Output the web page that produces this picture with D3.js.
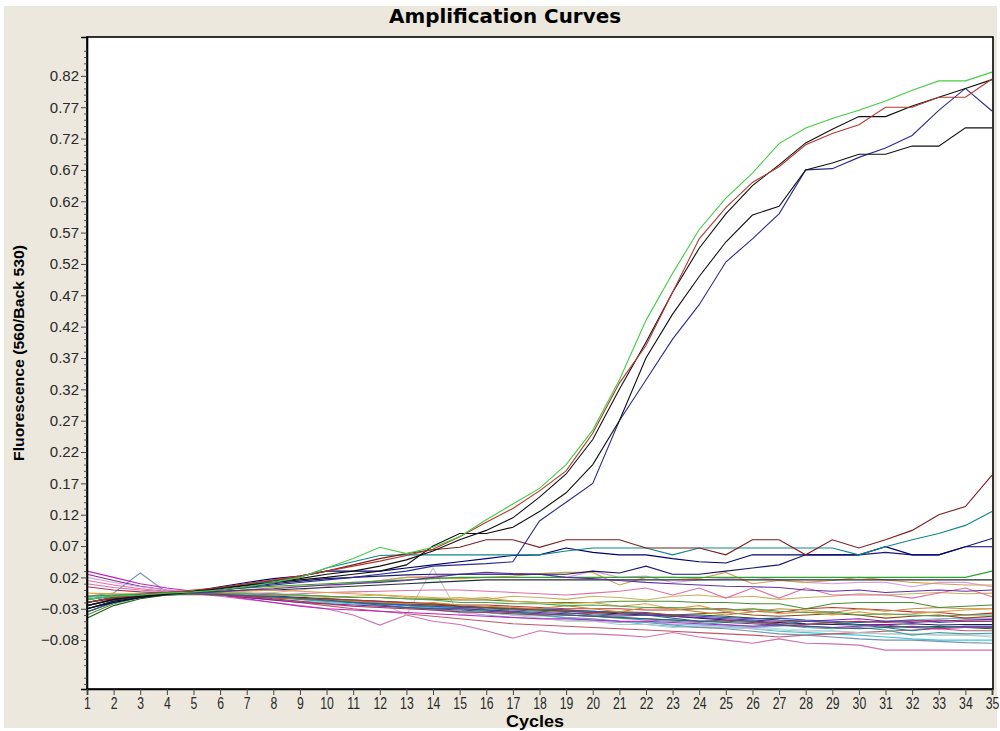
<!DOCTYPE html>
<html>
<head>
<meta charset="utf-8">
<script src="https://cdn.jsdelivr.net/npm/d3@7"></script>
<style>
  body { margin: 0; background: #ffffff; }
  svg { display: block; }
  .axis text { font-family: "Liberation Sans", Arial, sans-serif; fill: #2a2a2a; }
</style>
</head>
<body>
<svg id="chart" width="1000" height="731"></svg>
<script>
// cycles on the x axis
const cycles = [1,2,3,4,5,6,7,8,9,10,11,12,13,14,15,16,17,18,19,20,21,22,23,24,25,26,27,28,29,30,31,32,33,34,35];
// labelled y ticks
const yTicks = [0.82,0.77,0.72,0.67,0.62,0.57,0.52,0.47,0.42,0.37,0.32,0.27,0.22,0.17,0.12,0.07,0.02,-0.03,-0.08];

// amplifying samples
const greenCurve = [-0.015,-0.01,-0.008,-0.005,-0.003,0.0,0.005,0.012,0.02,0.035,0.05,0.068,0.058,0.068,0.085,0.112,0.137,0.162,0.2,0.255,0.335,0.43,0.505,0.575,0.625,0.665,0.712,0.737,0.752,0.765,0.78,0.797,0.812,0.812,0.826];
const redCurve = [-0.02,-0.012,-0.008,-0.004,0.0,0.004,0.01,0.016,0.022,0.03,0.038,0.046,0.055,0.065,0.085,0.108,0.13,0.158,0.19,0.25,0.33,0.39,0.475,0.56,0.61,0.65,0.675,0.71,0.728,0.742,0.77,0.77,0.786,0.786,0.815];
const blackCurveA = [-0.025,-0.015,-0.01,-0.006,-0.002,0.003,0.008,0.012,0.018,0.025,0.03,0.038,0.048,0.062,0.08,0.095,0.115,0.148,0.185,0.24,0.32,0.395,0.475,0.545,0.6,0.645,0.678,0.713,0.735,0.755,0.755,0.772,0.786,0.8,0.814];
const blackCurveB = [-0.03,-0.018,-0.012,-0.007,-0.003,0.002,0.007,0.012,0.016,0.02,0.025,0.03,0.04,0.07,0.09,0.09,0.1,0.125,0.155,0.2,0.27,0.37,0.44,0.5,0.555,0.598,0.612,0.67,0.681,0.695,0.695,0.708,0.708,0.737,0.737];
const blueCurve = [-0.02,-0.012,-0.008,-0.005,-0.003,0.0,0.004,0.008,0.012,0.016,0.02,0.025,0.03,0.038,0.04,0.042,0.045,0.11,0.14,0.17,0.27,0.335,0.4,0.455,0.523,0.56,0.6,0.67,0.672,0.69,0.705,0.725,0.765,0.8,0.764];

// late risers / plateau around 0.07
const maroonCurve = [-0.02,-0.014,-0.01,-0.006,-0.002,0.004,0.01,0.015,0.022,0.03,0.04,0.05,0.058,0.064,0.068,0.08,0.08,0.068,0.08,0.08,0.08,0.067,0.067,0.067,0.056,0.08,0.08,0.056,0.08,0.067,0.08,0.095,0.12,0.133,0.183];
const tealCurve = [-0.015,-0.01,-0.007,-0.004,-0.002,0.003,0.008,0.014,0.02,0.035,0.045,0.055,0.056,0.056,0.056,0.056,0.056,0.056,0.062,0.067,0.067,0.067,0.056,0.067,0.067,0.067,0.067,0.067,0.067,0.056,0.069,0.08,0.09,0.103,0.125];
const navyCurveA = [-0.03,-0.02,-0.012,-0.006,-0.002,0.005,0.012,0.018,0.022,0.03,0.03,0.03,0.035,0.04,0.045,0.05,0.055,0.056,0.067,0.06,0.056,0.056,0.05,0.045,0.043,0.056,0.056,0.056,0.056,0.056,0.069,0.056,0.056,0.069,0.069];
const navyCurveB = [-0.025,-0.016,-0.01,-0.006,-0.003,0.0,0.005,0.01,0.014,0.018,0.02,0.022,0.024,0.025,0.025,0.025,0.025,0.025,0.025,0.03,0.027,0.038,0.025,0.025,0.03,0.035,0.04,0.056,0.056,0.056,0.06,0.056,0.056,0.069,0.082];

// negative samples (baseline)
const base01 = [-0.01,-0.008,-0.006,-0.004,-0.002,0.0,0.003,0.006,0.008,0.01,0.012,0.014,0.016,0.018,0.02,0.02,0.02,0.02,0.02,0.02,0.02,0.02,0.02,0.02,0.02,0.02,0.02,0.02,0.02,0.02,0.02,0.02,0.02,0.02,0.03];
const base02 = [-0.03,-0.018,-0.011,-0.007,-0.005,-0.002,0.0,0.0,0.002,0.004,0.006,0.008,0.01,0.012,0.014,0.016,0.016,0.016,0.016,0.016,0.016,0.016,0.016,0.016,0.016,0.016,0.016,0.016,0.016,0.016,0.016,0.016,0.016,0.016,0.016];
const base03 = [-0.02,-0.012,-0.008,-0.005,-0.004,-0.002,0.0,0.004,0.006,0.008,0.01,0.015,0.02,0.02,0.018,0.02,0.022,0.026,0.028,0.028,0.008,0.02,0.02,0.018,0.028,0.01,0.015,0.012,0.015,0.02,0.016,0.012,0.01,0.008,0.008];
const base04 = [0.02,0.012,0.005,0.0,-0.002,-0.004,-0.006,-0.004,0.0,0.005,0.01,0.015,0.02,0.022,0.025,0.025,0.025,0.025,0.02,0.03,0.02,0.022,0.012,0.016,0.018,0.02,0.016,0.012,0.01,0.012,0.012,0.005,0.012,0.012,0.005];
const base05 = [0.015,0.008,0.002,-0.002,-0.004,-0.006,-0.008,-0.008,-0.006,-0.004,-0.003,-0.002,-0.001,0.0,0.0,-0.002,-0.004,-0.006,-0.008,-0.005,-0.002,0.003,-0.008,0.003,-0.013,0.003,-0.013,0.003,-0.008,-0.008,-0.008,-0.013,-0.005,0.003,-0.011];
const base06 = [-0.04,-0.022,-0.012,-0.006,-0.004,-0.004,-0.005,-0.006,-0.008,-0.01,-0.012,-0.012,-0.014,-0.015,-0.016,-0.016,-0.018,-0.02,-0.02,-0.02,-0.018,-0.018,-0.018,-0.02,-0.02,-0.022,-0.022,-0.03,-0.022,-0.02,-0.02,-0.02,-0.028,-0.026,-0.024];
const base07 = [-0.025,-0.015,-0.01,-0.007,-0.006,-0.006,-0.007,-0.008,-0.01,-0.012,-0.01,-0.008,-0.012,-0.014,-0.012,-0.015,-0.01,-0.012,-0.015,-0.01,-0.012,-0.016,-0.01,-0.008,-0.012,-0.01,-0.015,-0.012,-0.01,-0.006,-0.008,-0.006,-0.004,-0.006,-0.005];
const base08 = [-0.01,-0.008,-0.007,-0.006,-0.006,-0.008,-0.01,-0.012,-0.014,-0.016,-0.018,-0.02,-0.022,-0.02,-0.024,-0.026,-0.028,-0.03,-0.025,-0.03,-0.035,-0.028,-0.03,-0.035,-0.04,-0.035,-0.03,-0.032,-0.036,-0.03,-0.034,-0.03,-0.028,-0.03,-0.03];
const base09 = [-0.02,-0.012,-0.008,-0.006,-0.006,-0.008,-0.01,-0.012,-0.014,-0.014,-0.016,-0.018,-0.02,-0.022,-0.024,-0.024,-0.026,-0.028,-0.03,-0.03,-0.03,-0.032,-0.032,-0.03,-0.03,-0.034,-0.036,-0.03,-0.028,-0.03,-0.032,-0.035,-0.036,-0.04,-0.037];
const base10 = [-0.035,-0.02,-0.012,-0.008,-0.007,-0.008,-0.01,-0.012,-0.014,-0.016,-0.018,-0.02,-0.022,-0.024,-0.026,-0.028,-0.03,-0.032,-0.034,-0.036,-0.035,-0.036,-0.04,-0.038,-0.036,-0.04,-0.042,-0.04,-0.038,-0.04,-0.045,-0.042,-0.04,-0.045,-0.042];
const base11 = [0.025,0.015,0.006,0.0,-0.004,-0.008,-0.012,-0.016,-0.02,-0.022,-0.024,-0.026,-0.028,-0.03,-0.03,-0.032,-0.034,-0.036,-0.038,-0.038,-0.04,-0.04,-0.042,-0.044,-0.046,-0.048,-0.05,-0.05,-0.048,-0.046,-0.05,-0.052,-0.05,-0.048,-0.047];
const base12 = [0.03,0.02,0.01,0.003,-0.002,-0.008,-0.014,-0.02,-0.026,-0.03,-0.032,-0.034,-0.036,-0.038,-0.04,-0.042,-0.044,-0.046,-0.046,-0.048,-0.05,-0.05,-0.052,-0.054,-0.056,-0.058,-0.056,-0.058,-0.06,-0.058,-0.056,-0.06,-0.062,-0.06,-0.06];
const base13 = [-0.03,-0.018,-0.01,-0.006,-0.005,-0.006,-0.008,-0.01,-0.014,-0.016,-0.02,-0.022,-0.024,-0.026,-0.028,-0.028,-0.03,-0.03,-0.032,-0.034,-0.036,-0.038,-0.04,-0.042,-0.044,-0.046,-0.045,-0.048,-0.05,-0.052,-0.05,-0.048,-0.052,-0.05,-0.05];
const base14 = [-0.015,-0.01,-0.007,-0.006,-0.006,-0.008,-0.01,-0.012,-0.014,-0.016,-0.018,-0.022,-0.024,-0.026,-0.028,-0.03,-0.032,-0.034,-0.036,-0.04,-0.042,-0.04,-0.045,-0.05,-0.048,-0.05,-0.055,-0.05,-0.052,-0.056,-0.06,-0.065,-0.06,-0.058,-0.058];
const base15 = [-0.025,-0.015,-0.01,-0.007,-0.006,-0.007,-0.008,-0.01,-0.012,-0.014,-0.016,-0.018,-0.02,-0.022,-0.026,-0.028,-0.03,-0.032,-0.034,-0.036,-0.038,-0.04,-0.042,-0.045,-0.048,-0.05,-0.052,-0.054,-0.055,-0.056,-0.055,-0.054,-0.056,-0.055,-0.055];
const base16 = [-0.045,-0.025,-0.014,-0.008,-0.006,-0.006,-0.008,-0.01,-0.012,-0.015,-0.018,-0.02,-0.022,-0.024,-0.026,-0.028,-0.03,-0.03,-0.032,-0.034,-0.036,-0.038,-0.04,-0.04,-0.042,-0.045,-0.048,-0.05,-0.052,-0.055,-0.058,-0.06,-0.058,-0.06,-0.062];
const base17 = [-0.02,-0.012,-0.008,-0.006,-0.006,-0.008,-0.01,-0.012,-0.015,-0.018,-0.02,-0.022,-0.025,-0.028,-0.03,-0.032,-0.035,-0.038,-0.04,-0.042,-0.045,-0.048,-0.05,-0.052,-0.055,-0.058,-0.056,-0.06,-0.062,-0.06,-0.064,-0.072,-0.068,-0.07,-0.069];
const base18 = [-0.01,-0.008,-0.007,-0.006,-0.006,-0.008,-0.012,-0.016,-0.02,-0.024,-0.026,-0.028,-0.03,-0.032,-0.034,-0.036,-0.04,-0.042,-0.044,-0.046,-0.05,-0.052,-0.054,-0.056,-0.058,-0.06,-0.062,-0.064,-0.066,-0.068,-0.07,-0.07,-0.072,-0.072,-0.072];
const base19 = [-0.015,-0.01,-0.008,-0.006,-0.006,-0.008,-0.012,-0.015,-0.018,-0.02,-0.022,-0.025,-0.028,-0.03,-0.034,-0.036,-0.04,-0.04,-0.045,-0.048,-0.05,-0.055,-0.058,-0.06,-0.06,-0.062,-0.066,-0.068,-0.07,-0.072,-0.075,-0.078,-0.08,-0.08,-0.08];
const base20 = [-0.01,-0.005,0.027,-0.004,-0.006,-0.008,-0.01,-0.012,-0.015,-0.018,-0.02,-0.022,-0.025,-0.028,-0.03,-0.032,-0.036,-0.04,-0.044,-0.046,-0.05,-0.052,-0.056,-0.06,-0.062,-0.066,-0.07,-0.072,-0.075,-0.078,-0.08,-0.08,-0.082,-0.084,-0.085];
const base21 = [-0.015,-0.01,-0.008,-0.006,-0.006,-0.008,-0.01,-0.012,-0.014,-0.016,-0.018,-0.02,-0.04,0.035,-0.04,-0.035,-0.04,-0.045,-0.05,-0.05,-0.055,-0.055,-0.06,-0.058,-0.06,-0.062,-0.064,-0.066,-0.065,-0.068,-0.07,-0.07,-0.072,-0.072,-0.075];
const base22 = [0.01,0.004,0.0,-0.003,-0.006,-0.01,-0.015,-0.02,-0.025,-0.03,-0.04,-0.056,-0.04,-0.05,-0.055,-0.065,-0.077,-0.065,-0.07,-0.07,-0.072,-0.075,-0.068,-0.075,-0.08,-0.085,-0.078,-0.085,-0.086,-0.088,-0.096,-0.096,-0.096,-0.096,-0.096];
const base23 = [-0.02,-0.012,-0.008,-0.006,-0.006,-0.008,-0.012,-0.016,-0.02,-0.025,-0.03,-0.034,-0.038,-0.042,-0.046,-0.05,-0.054,-0.056,-0.058,-0.06,-0.062,-0.064,-0.066,-0.068,-0.07,-0.072,-0.075,-0.072,-0.07,-0.068,-0.066,-0.064,-0.062,-0.065,-0.065];
const base24 = [-0.005,-0.006,-0.006,-0.006,-0.006,-0.004,-0.002,0.0,-0.002,-0.004,-0.006,-0.008,-0.01,-0.012,-0.015,-0.012,-0.018,-0.02,-0.022,-0.02,-0.026,-0.022,-0.03,-0.025,-0.035,-0.03,-0.038,-0.035,-0.04,-0.035,-0.04,-0.038,-0.035,-0.032,-0.03];
const base25 = [-0.012,-0.009,-0.007,-0.006,-0.006,-0.008,-0.01,-0.012,-0.014,-0.018,-0.02,-0.024,-0.028,-0.032,-0.036,-0.04,-0.044,-0.046,-0.048,-0.05,-0.052,-0.05,-0.055,-0.056,-0.058,-0.06,-0.058,-0.056,-0.054,-0.052,-0.05,-0.048,-0.046,-0.045,-0.045];
const base26 = [-0.02,-0.012,-0.008,-0.006,-0.005,-0.003,0.0,0.002,0.005,0.008,0.01,0.012,0.015,0.02,0.025,0.028,0.026,0.025,0.02,0.018,0.015,0.012,0.01,0.008,0.006,0.005,0.004,0.0,-0.002,0.0,-0.004,-0.002,0.0,-0.002,0.0];
const base27 = [-0.03,-0.018,-0.011,-0.007,-0.006,-0.006,-0.006,-0.008,-0.008,-0.01,-0.012,-0.012,-0.014,-0.016,-0.02,-0.02,-0.022,-0.022,-0.025,-0.024,-0.026,-0.028,-0.028,-0.03,-0.032,-0.03,-0.034,-0.036,-0.035,-0.04,-0.038,-0.04,-0.042,-0.04,-0.04];
const base28 = [0.005,0.0,-0.003,-0.005,-0.006,-0.008,-0.01,-0.014,-0.018,-0.022,-0.026,-0.028,-0.03,-0.032,-0.035,-0.036,-0.038,-0.04,-0.04,-0.042,-0.044,-0.046,-0.048,-0.05,-0.05,-0.052,-0.054,-0.055,-0.052,-0.05,-0.052,-0.05,-0.048,-0.05,-0.05];
const base29 = [-0.035,-0.02,-0.012,-0.008,-0.006,-0.007,-0.009,-0.011,-0.013,-0.016,-0.02,-0.024,-0.028,-0.03,-0.032,-0.034,-0.036,-0.038,-0.04,-0.042,-0.044,-0.046,-0.048,-0.05,-0.052,-0.054,-0.056,-0.058,-0.06,-0.062,-0.06,-0.058,-0.06,-0.058,-0.058];

// drawing order: baseline first, amplified curves on top
const series = [
  base18, base19, base25, base22, base23, base21, base20, base17, base16, base15,
  base14, base13, base12, base11, base10, base09, base08, base07, base06, base05,
  base04, base03, base02, base01, base24, base26, base27, base28, base29,
  navyCurveB, navyCurveA, tealCurve, maroonCurve,
  blueCurve, blackCurveB, blackCurveA, redCurve, greenCurve
];
const colors = [
  '#a8e4ee', '#3cc8d8', '#78b4e0', '#d070b0', '#c05868', '#c4c4c4', '#7890b0', '#40a0a0', '#206020', '#1c1c5c',
  '#108080', '#3050d0', '#c020c0', '#8020a0', '#8b4513', '#c03030', '#c09040', '#c8b060', '#4c8c30', '#e070a0',
  '#d8a0e0', '#d0a050', '#203030', '#30a030', '#e0a040', '#6030a0', '#50a050', '#b03050', '#306080',
  '#1a1a6e', '#000070', '#108888', '#7a1f1f',
  '#2b2b90', '#101010', '#101010', '#b03a2e', '#44cc44'
];

const svg = d3.select('#chart');
const plotLeft = 87, plotRight = 992, plotTop = 37, plotBottom = 689;

// window background
svg.append('rect')
  .attr('x', 4).attr('y', 6)
  .attr('width', 993).attr('height', 722)
  .attr('fill', '#ece8de');

const x = d3.scaleLinear()
  .domain([1, 35])
  .range([plotLeft, plotRight]);

const y = d3.scaleLinear()
  .domain([-0.158, 0.882])
  .range([plotBottom, plotTop]);

// plot area
svg.append('rect')
  .attr('x', plotLeft).attr('y', plotTop)
  .attr('width', plotRight - plotLeft + 1).attr('height', plotBottom - plotTop)
  .attr('fill', '#ffffff');

svg.append('defs').append('clipPath').attr('id', 'plotclip')
  .append('rect')
  .attr('x', plotLeft).attr('y', plotTop)
  .attr('width', plotRight - plotLeft + 1).attr('height', plotBottom - plotTop);

const line = d3.line()
  .x((d, i) => x(cycles[i]))
  .y(d => y(d));

svg.append('g')
  .attr('clip-path', 'url(#plotclip)')
  .selectAll('path')
  .data(series)
  .enter()
  .append('path')
  .attr('d', line)
  .attr('fill', 'none')
  .attr('stroke', (d, i) => colors[i])
  .attr('stroke-width', 1.1);

// frame
svg.append('rect')
  .attr('x', plotLeft).attr('y', plotTop)
  .attr('width', plotRight - plotLeft + 1).attr('height', plotBottom - plotTop)
  .attr('fill', 'none')
  .attr('stroke', '#000')
  .attr('stroke-width', 1.6);

// minor y ticks every 0.01
const minorTicks = [];
for (let k = -15; k <= 87; k++) {
  if ((k + 100 - 2) % 5 !== 0) minorTicks.push(k / 100);
}

svg.append('g')
  .attr('class', 'axis')
  .attr('transform', `translate(${plotLeft}, 0)`)
  .call(d3.axisLeft(y).tickValues(minorTicks).tickSize(3).tickFormat(''))
  .call(g => g.select('.domain').remove())
  .call(g => g.selectAll('line').attr('stroke', '#555'));

const yAxis = svg.append('g')
  .attr('class', 'axis')
  .attr('transform', `translate(${plotLeft}, 0)`)
  .call(d3.axisLeft(y).tickValues(yTicks).tickSize(6).tickPadding(2).tickFormat(d3.format('.2f')));
yAxis.select('.domain').attr('stroke', '#000').attr('stroke-width', 1.6);
yAxis.selectAll('line').attr('stroke', '#444');
yAxis.selectAll('text').style('font-size', '15px');

const xAxis = svg.append('g')
  .attr('class', 'axis')
  .attr('transform', `translate(0, ${plotBottom})`)
  .call(d3.axisBottom(x).tickValues(cycles).tickSize(6).tickPadding(2).tickFormat(d3.format('d')));
xAxis.select('.domain').attr('stroke', '#000').attr('stroke-width', 1.6);
xAxis.selectAll('line').attr('stroke', '#444');
xAxis.selectAll('text')
  .style('font-size', '17px')
  .attr('transform', 'scale(0.72,1)');

// titles
svg.append('text')
  .attr('x', 505).attr('y', 23)
  .attr('text-anchor', 'middle')
  .attr('textLength', 232)
  .attr('lengthAdjust', 'spacingAndGlyphs')
  .style('font-family', '"DejaVu Sans", sans-serif')
  .style('font-weight', 'bold')
  .style('font-size', '19px')
  .style('fill', '#000')
  .text('Amplification Curves');

svg.append('text')
  .attr('x', 535).attr('y', 727)
  .attr('text-anchor', 'middle')
  .attr('textLength', 58)
  .attr('lengthAdjust', 'spacingAndGlyphs')
  .style('font-family', '"Liberation Sans", Arial, sans-serif')
  .style('font-weight', 'bold')
  .style('font-size', '16px')
  .style('fill', '#000')
  .text('Cycles');

svg.append('text')
  .attr('transform', 'translate(24, 353) rotate(-90)')
  .attr('text-anchor', 'middle')
  .attr('textLength', 216)
  .attr('lengthAdjust', 'spacingAndGlyphs')
  .style('font-family', '"Liberation Sans", Arial, sans-serif')
  .style('font-weight', 'bold')
  .style('font-size', '15px')
  .style('fill', '#000')
  .text('Fluorescence (560/Back 530)');
</script>
</body>
</html>
